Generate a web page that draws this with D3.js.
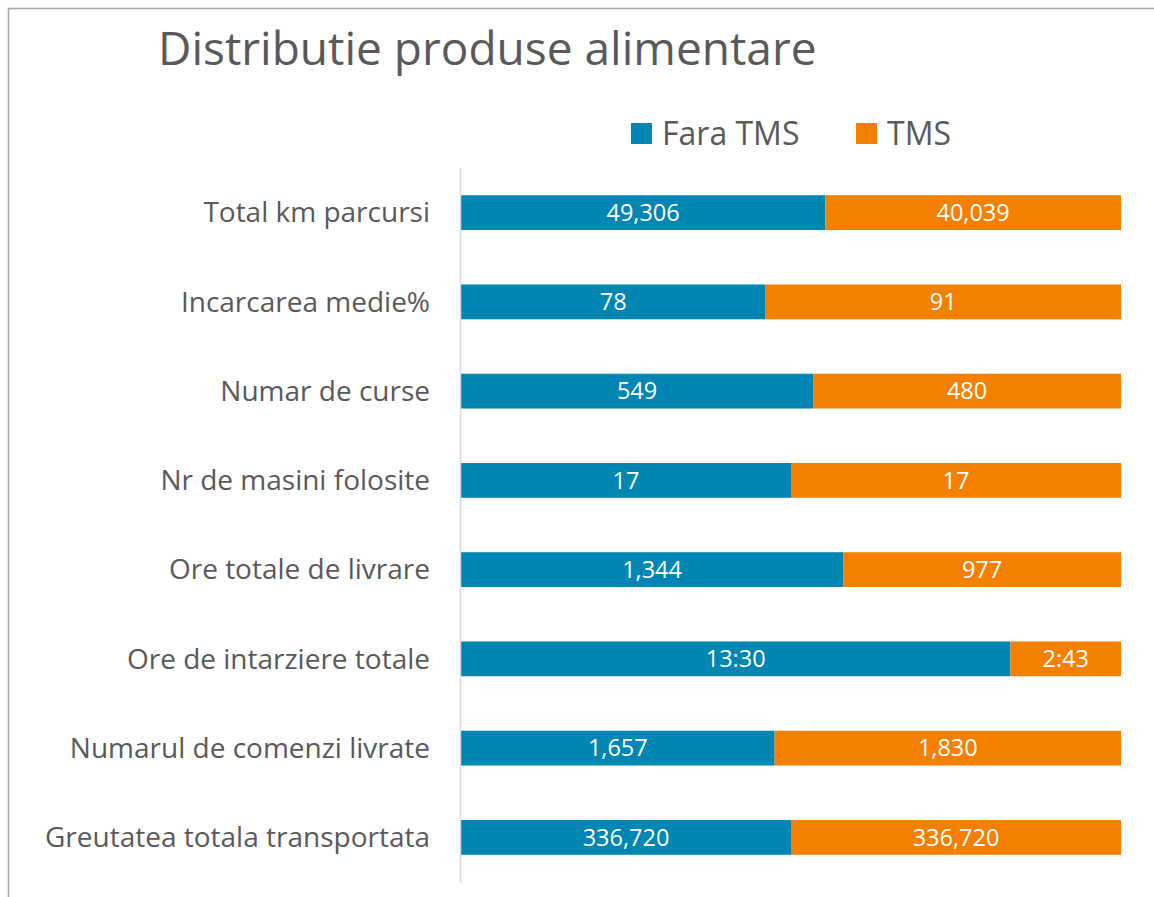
<!DOCTYPE html>
<html>
<head>
<meta charset="utf-8">
<script src="https://cdn.jsdelivr.net/npm/d3@7"></script>
<style>
  body { margin: 0; background: #fff; font-family: "Open Sans", sans-serif; }
</style>
</head>
<body>
<div id="viz"></div>
<script>
const categories = ["Total km parcursi", "Incarcarea medie%", "Numar de curse", "Nr de masini folosite",
                    "Ore totale de livrare", "Ore de intarziere totale", "Numarul de comenzi livrate",
                    "Greutatea totala transportata"]
const seriesNames = ["Fara TMS", "TMS"]
// ore de intarziere stored in hours (13:30 and 2:43)
const faraTms = [49306, 78, 549, 17, 1344, 13.5, 1657, 336720]
const tms = [40039, 91, 480, 17, 977, 2 + 43 / 60, 1830, 336720]
const faraLabels = ["49,306", "78", "549", "17", "1,344", "13:30", "1,657", "336,720"]
const tmsLabels = ["40,039", "91", "480", "17", "977", "2:43", "1,830", "336,720"]
const colors = ["#0086b3", "#f58000"]

function chart () {
    const width = 1154
    const height = 897

    const svg = d3.select("#viz").append("svg")
                  .attr("width", width)
                  .attr("height", height)

    // chart border (only top and left visible)
    svg.append("path")
       .attr("d", `M8.5,${height} V8.5 H${width}`)
       .attr("fill", "none")
       .attr("stroke", "#a6a6a6")
       .attr("stroke-width", 1.5)

    svg.append("text")
       .attr("x", 158)
       .attr("y", 65)
       .attr("font-size", 46)
       .attr("fill", "#595959")
       .text("Distributie produse alimentare")

    const rows = categories.map((c, i) => {
        const total = faraTms[i] + tms[i]
        return {cat: c, a: faraTms[i] / total, b: tms[i] / total, la: faraLabels[i], lb: tmsLabels[i]}
    })

    const x = d3.scaleLinear().domain([0, 1]).range([461, 1121])
    const y = d3.scaleBand().domain(categories).range([168, 882]).paddingInner(0.61).paddingOuter(0.305)

    // category labels
    svg.append("g").selectAll("text")
       .data(rows)
       .join("text")
       .attr("x", 430)
       .attr("y", d => y(d.cat) + y.bandwidth() / 2)
       .attr("dy", "0.35em")
       .attr("text-anchor", "end")
       .attr("font-size", 28)
       .attr("fill", "#595959")
       .text(d => d.cat)

    const bars = svg.append("g")
    bars.selectAll("rect.a")
        .data(rows)
        .join("rect")
        .attr("class", "a")
        .attr("x", x(0))
        .attr("y", d => y(d.cat))
        .attr("width", d => x(d.a) - x(0))
        .attr("height", y.bandwidth())
        .attr("fill", colors[0])
    bars.selectAll("rect.b")
        .data(rows)
        .join("rect")
        .attr("class", "b")
        .attr("x", d => x(d.a))
        .attr("y", d => y(d.cat))
        .attr("width", d => x(1) - x(d.a))
        .attr("height", y.bandwidth())
        .attr("fill", colors[1])

    // value labels
    bars.selectAll("text.la")
        .data(rows)
        .join("text")
        .attr("class", "la")
        .attr("x", d => (x(0) + x(d.a)) / 2)
        .attr("y", d => y(d.cat) + y.bandwidth() / 2)
        .attr("dy", "0.35em")
        .attr("text-anchor", "middle")
        .attr("font-size", 23.5)
        .attr("fill", "#fff")
        .text(d => d.la)
    bars.selectAll("text.lb")
        .data(rows)
        .join("text")
        .attr("class", "lb")
        .attr("x", d => (x(d.a) + x(1)) / 2)
        .attr("y", d => y(d.cat) + y.bandwidth() / 2)
        .attr("dy", "0.35em")
        .attr("text-anchor", "middle")
        .attr("font-size", 23.5)
        .attr("fill", "#fff")
        .text(d => d.lb)

    // vertical axis line
    svg.append("line")
       .attr("x1", 460.5).attr("x2", 460.5)
       .attr("y1", 168).attr("y2", 882)
       .attr("stroke", "#d9d9d9")
       .attr("stroke-width", 1.5)

    // legend
    const legendX = [631, 856]
    const legend = svg.append("g").selectAll("g")
                      .data(seriesNames)
                      .join("g")
                      .attr("transform", (d, i) => `translate(${legendX[i]},123)`)
    legend.append("rect")
          .attr("width", 21).attr("height", 21)
          .attr("fill", (d, i) => colors[i])
    legend.append("text")
          .attr("x", 31)
          .attr("y", 10.5)
          .attr("dy", "0.35em")
          .attr("font-size", 32)
          .attr("fill", "#595959")
          .text(d => d)
}

chart()
</script>
</body>
</html>
